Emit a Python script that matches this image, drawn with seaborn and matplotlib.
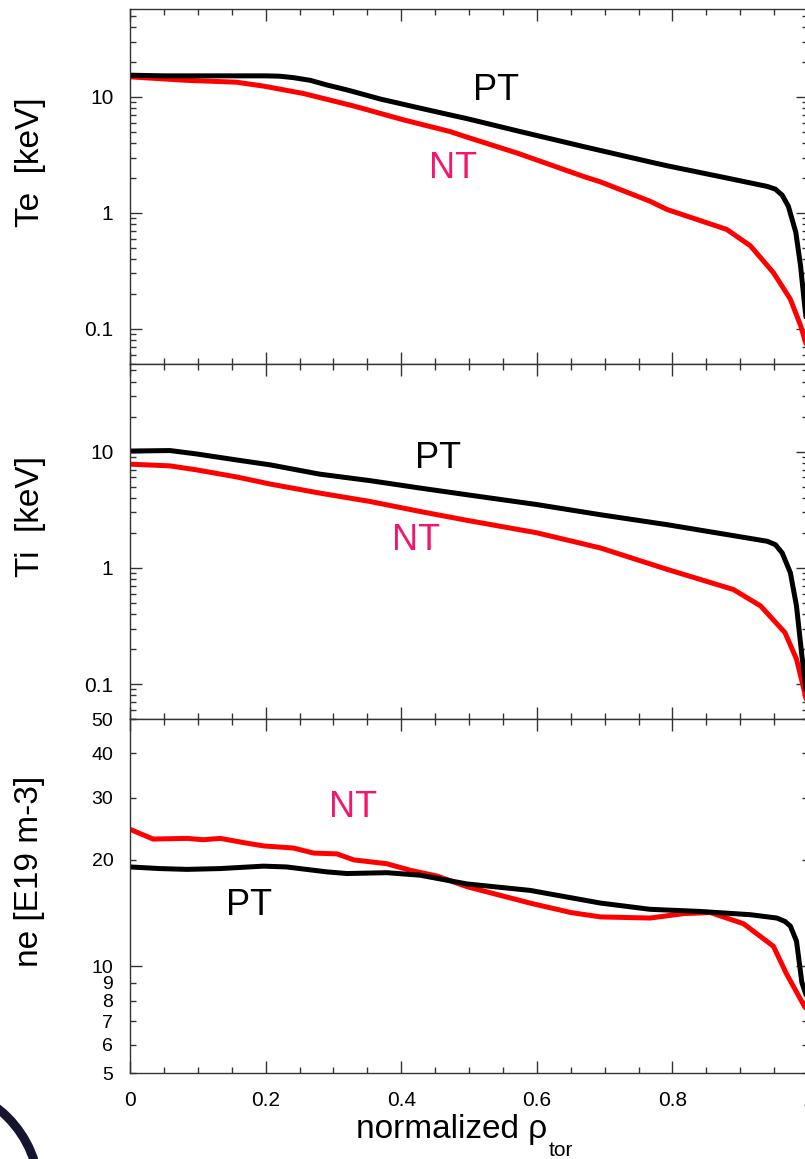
import matplotlib
matplotlib.use("Agg")
import matplotlib.pyplot as plt
import seaborn as sns
from matplotlib.ticker import (FixedLocator, FuncFormatter, LogLocator,
                               MultipleLocator, NullFormatter, FixedFormatter)
from matplotlib.patches import Circle

# ---- electron temperature [keV] ----
te_pt_rho = [0.0, 0.05, 0.10, 0.15, 0.20, 0.22, 0.24, 0.266, 0.29, 0.32, 0.369,
             0.428, 0.472, 0.497, 0.571, 0.669, 0.694, 0.767, 0.792, 0.88, 0.94,
             0.952, 0.962, 0.971, 0.982, 0.989, 0.995, 1.0]
te_pt = [15.4, 15.2, 15.2, 15.2, 15.2, 15.1, 14.7, 13.9, 12.7, 11.5, 9.6,
         8.0, 7.0, 6.5, 5.1, 3.73, 3.45, 2.75, 2.55, 2.0, 1.69,
         1.6, 1.42, 1.14, 0.68, 0.35, 0.16, 0.09]
te_nt_rho = [0.0, 0.084, 0.157, 0.197, 0.256, 0.330, 0.404, 0.472, 0.497, 0.571,
             0.669, 0.694, 0.767, 0.792, 0.88, 0.915, 0.949, 0.974, 0.989, 1.0]
te_nt = [14.9, 13.9, 13.4, 12.4, 10.7, 8.35, 6.33, 5.03, 4.5, 3.28,
         2.06, 1.85, 1.26, 1.07, 0.72, 0.52, 0.305, 0.18, 0.107, 0.065]

# ---- ion temperature [keV] ----
ti_pt_rho = [0.0, 0.059, 0.098, 0.157, 0.207, 0.280, 0.354, 0.428, 0.497, 0.6,
             0.694, 0.792, 0.890, 0.940, 0.952, 0.962, 0.974, 0.983, 0.991, 1.0]
ti_pt = [10.1, 10.2, 9.54, 8.47, 7.68, 6.39, 5.62, 4.85, 4.25, 3.5,
         2.86, 2.35, 1.89, 1.69, 1.58, 1.34, 0.906, 0.47, 0.175, 0.065]
ti_nt_rho = [0.0, 0.059, 0.098, 0.157, 0.207, 0.280, 0.354, 0.428, 0.497, 0.6,
             0.694, 0.792, 0.890, 0.930, 0.966, 0.983, 0.995, 1.0]
ti_nt = [7.79, 7.53, 6.96, 6.05, 5.25, 4.39, 3.72, 3.05, 2.56, 2.0,
         1.48, 0.97, 0.65, 0.47, 0.277, 0.164, 0.085, 0.062]

# ---- electron density [1e19 m^-3] ----
ne_pt_rho = [0.0, 0.044, 0.084, 0.133, 0.197, 0.231, 0.290, 0.320, 0.379, 0.428,
             0.497, 0.59, 0.694, 0.767, 0.841, 0.915, 0.954, 0.966, 0.974, 0.983,
             0.991, 1.0]
ne_pt = [19.1, 18.9, 18.8, 18.9, 19.2, 19.1, 18.5, 18.3, 18.4, 18.1,
         17.1, 16.4, 15.1, 14.5, 14.3, 14.0, 13.7, 13.4, 13.0, 11.8,
         9.0, 8.0]
ne_nt_rho = [0.0, 0.034, 0.084, 0.108, 0.133, 0.172, 0.197, 0.241, 0.271, 0.305,
             0.330, 0.379, 0.413, 0.453, 0.497, 0.59, 0.65, 0.694, 0.767, 0.817,
             0.856, 0.905, 0.949, 0.968, 0.995, 1.0]
ne_nt = [24.4, 22.9, 23.0, 22.8, 23.0, 22.3, 21.9, 21.6, 20.9, 20.8,
         20.0, 19.5, 18.7, 18.0, 16.8, 15.1, 14.2, 13.8, 13.7, 14.1,
         14.2, 13.2, 11.4, 9.55, 7.7, 7.5]

x_ticks = [0.0, 0.2, 0.4, 0.6, 0.8, 1.0]
x_tick_labels = ["0", "0.2", "0.4", "0.6", "0.8", "1"]
ne_major = [10]
ne_minor = [5, 6, 7, 8, 9, 20, 30, 40, 50]
ne_minor_labels = ["5", "6", "7", "8", "9", "20", "30", "40", "50"]

PT_COLOR = "#000000"
NT_COLOR = "#ff0000"
NT_TEXT = "#f5156c"

sns.set_theme(style="ticks")
plt.rcParams["font.family"] = ["Liberation Sans", "DejaVu Sans"]
plt.rcParams["text.color"] = "black"
plt.rcParams["axes.labelcolor"] = "black"

W, H = 805, 1159
fig = plt.figure(figsize=(W / 100, H / 100), dpi=100)


def panel(top, bottom, left=130, right=808):
    return fig.add_axes([left / W, 1 - bottom / H, (right - left) / W, (bottom - top) / H])


ax_te = panel(9.3, 363.7)
ax_ti = panel(363.7, 719)
ax_ne = panel(719, 1073)

lw = 3.6
for ax, (rn, vn, rp, vp) in zip(
        [ax_te, ax_ti, ax_ne],
        [(te_nt_rho, te_nt, te_pt_rho, te_pt),
         (ti_nt_rho, ti_nt, ti_pt_rho, ti_pt),
         (ne_nt_rho, ne_nt, ne_pt_rho, ne_pt)]):
    sns.lineplot(x=rn, y=vn, ax=ax, color=NT_COLOR, lw=lw, estimator=None, sort=False)
    sns.lineplot(x=rp, y=vp, ax=ax, color=PT_COLOR, lw=lw, estimator=None, sort=False)
    ax.set_yscale("log")
    ax.set_xlim(0, 1)
    ax.xaxis.set_major_locator(FixedLocator(x_ticks))
    ax.xaxis.set_major_formatter(FixedFormatter(x_tick_labels))
    ax.xaxis.set_minor_locator(MultipleLocator(0.05))
    ax.tick_params(which="both", direction="in", top=True, right=True,
                   width=1.0, color="#333333", labelcolor="black")
    ax.tick_params(which="major", length=8.5)
    ax.tick_params(which="minor", length=4.2)
    ax.tick_params(axis="y", which="both", labelsize=15, pad=12)
    ax.tick_params(axis="x", which="both", labelsize=15, pad=13)
    for sp in ax.spines.values():
        sp.set_color("#333333")
        sp.set_linewidth(1.0)
    ax.set_xlabel("")

for ax in (ax_te, ax_ti):
    ax.set_ylim(0.05, 57)
    ax.yaxis.set_major_locator(LogLocator(base=10))
    ax.yaxis.set_major_formatter(FuncFormatter(lambda v, _: f"{v:g}"))
    ax.yaxis.set_minor_locator(LogLocator(base=10, subs=range(2, 10), numticks=20))
    ax.yaxis.set_minor_formatter(NullFormatter())
    ax.tick_params(labelbottom=False)

ax_ne.set_ylim(5, 50)
ax_ne.yaxis.set_major_locator(FixedLocator(ne_major))
ax_ne.yaxis.set_major_formatter(FuncFormatter(lambda v, _: f"{v:g}"))
ax_ne.yaxis.set_minor_locator(FixedLocator(ne_minor))
ax_ne.yaxis.set_minor_formatter(FixedFormatter(ne_minor_labels))
ax_ne.tick_params(axis="y", which="both", labelsize=14)

# axis labels
label_x = (45.5 - 130) / 678
for ax, txt in zip([ax_te, ax_ti, ax_ne], ["Te  [keV]", "Ti  [keV]", "ne [E19 m-3]"]):
    ax.set_ylabel(txt, fontsize=24, color="black")
    ax.yaxis.set_label_coords(label_x, 0.569)

ax_ne.set_xlabel("normalized ρ", fontsize=24, color="black")
ax_ne.xaxis.set_label_coords((452 - 130) / 678, (1073 - 1114) / 354)
fig.text(549 / W, 1 - 1156 / H, "tor", fontsize=15, color="black",
         ha="left", va="baseline")

# curve labels
ax_te.text(0.540, 9.43, "PT", color=PT_COLOR, fontsize=26, ha="center", va="baseline")
ax_te.text(0.477, 2.0, "NT", color=NT_TEXT, fontsize=26, ha="center", va="baseline")
ax_ti.text(0.454, 7.19, "PT", color=PT_COLOR, fontsize=26, ha="center", va="baseline")
ax_ti.text(0.422, 1.435, "NT", color=NT_TEXT, fontsize=26, ha="center", va="baseline")
ax_ne.text(0.329, 26.4, "NT", color=NT_TEXT, fontsize=26, ha="center", va="baseline")
ax_ne.text(0.176, 13.97, "PT", color=PT_COLOR, fontsize=26, ha="center", va="baseline")

# emblem ring in the lower-left corner
fig.add_artist(Circle((-0.694, (H - 1194) / 100), 1.087, transform=fig.dpi_scale_trans,
                      fill=False, lw=6.5, edgecolor="#15152f", clip_on=False))

fig.savefig("out.png", dpi=100)
